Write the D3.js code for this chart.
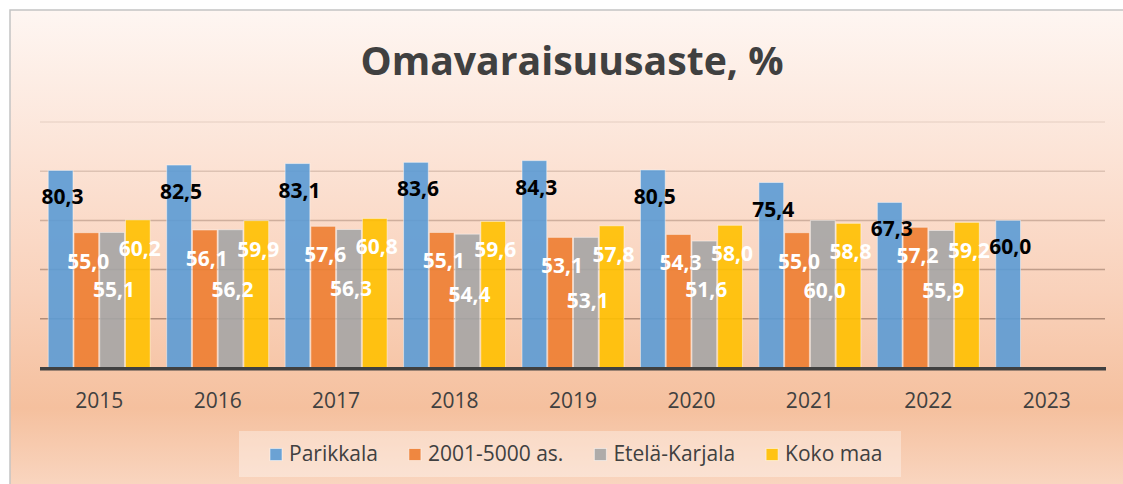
<!DOCTYPE html>
<html lang="fi">
<head>
<meta charset="UTF-8">
<title>Omavaraisuusaste, %</title>
<script src="https://cdn.jsdelivr.net/npm/d3@7/dist/d3.min.js"></script>
<style>
  body { margin: 0; background: #fff; }
  text { font-family: "Open Sans", "Noto Sans", sans-serif; }
</style>
</head>
<body>
<div id="main" style="width:1123px;height:484px"></div>
<script>
  // data
  var years = ["2015", "2016", "2017", "2018", "2019", "2020", "2021", "2022", "2023"];
  var seriesNames = ["Parikkala", "2001-5000 as.", "Etelä-Karjala", "Koko maa"];
  var parikkala = [80.3, 82.5, 83.1, 83.6, 84.3, 80.5, 75.4, 67.3, 60.0];
  var kunnat2001_5000 = [55.0, 56.1, 57.6, 55.1, 53.1, 54.3, 55.0, 57.2, null];
  var etelaKarjala = [55.1, 56.2, 56.3, 54.4, 53.1, 51.6, 60.0, 55.9, null];
  var kokoMaa = [60.2, 59.9, 60.8, 59.6, 57.8, 58.0, 58.8, 59.2, null];
  var yTicks = [0, 20, 40, 60, 80, 100];

  var seriesValues = [parikkala, kunnat2001_5000, etelaKarjala, kokoMaa];
  var colors = ["#5B9BD5", "#ED7D31", "#A5A5A5", "#FFC000"];
  var labelColors = ["#000", "#fff", "#fff", "#fff"];
  var labelDy = [34, 36, 65, 36]; // tekstin perusviiva palkin yläreunasta
  // Etelä-Karjalan nimikkeet on siirretty käsin alemmas, vuosittain eri verran
  var grayLabelDy = [65, 67, 66, 68, 71, 56, 78, 68];

  var W = 1123, H = 484;
  var svg = d3.select("#main").append("svg")
    .attr("width", W)
    .attr("height", H);

  // taustan liukuväri
  var defs = svg.append("defs");
  var grad = defs.append("linearGradient")
    .attr("id", "bg").attr("x1", 0).attr("y1", 0).attr("x2", 0).attr("y2", 1);
  [[0, "#fef6f2"], [0.3, "#fce4d7"], [0.6, "#f9d1ba"], [0.84, "#f5c09e"], [1, "#f9d5bf"]]
    .forEach(function (s) {
      grad.append("stop").attr("offset", s[0]).attr("stop-color", s[1]);
    });

  svg.append("rect")
    .attr("x", 10).attr("y", 10)
    .attr("width", W - 10).attr("height", H - 10)
    .attr("fill", "url(#bg)");
  svg.append("path")
    .attr("d", "M10," + H + " L10,10 L" + W + ",10")
    .attr("fill", "none")
    .attr("stroke", "#c4c4c4")
    .attr("stroke-width", 1.5);

  // otsikko
  svg.append("text")
    .attr("x", 572).attr("y", 75)
    .attr("text-anchor", "middle")
    .attr("font-size", 39)
    .attr("font-weight", "bold")
    .attr("fill", "#404040")
    .attr("textLength", 423)
    .attr("lengthAdjust", "spacingAndGlyphs")
    .text("Omavaraisuusaste, %");

  // asteikot
  var x0 = d3.scaleBand().domain(years).range([40, 1106]).padding(0);
  var x1 = d3.scaleBand().domain(d3.range(seriesNames.length))
    .range([0, x0.bandwidth()]).paddingInner(0.04).paddingOuter(0.32);
  var y = d3.scaleLinear().domain([0, 100]).range([368, 122]);

  // ruudukko
  svg.append("g").selectAll("line")
    .data(yTicks.slice(1))
    .enter().append("line")
    .attr("x1", 40).attr("x2", 1105)
    .attr("y1", function (d) { return y(d); })
    .attr("y2", function (d) { return y(d); })
    .attr("stroke", "#7a5a4a")
    .attr("stroke-width", 1.5)
    .attr("stroke-opacity", function (d) { return 0.12 + (100 - d) / 100 * 0.55; });

  var fmt = d3.formatLocale({ decimal: ",", thousands: " ", grouping: [3], currency: ["", "€"] }).format(".1f");

  // kaikki arvot yhteen listaan
  var cellData = [];
  years.forEach(function (yr, i) {
    seriesValues.forEach(function (s, k) {
      if (s[i] != null) cellData.push({ year: yr, i: i, k: k, v: s[i] });
    });
  });

  function barX(d) { return x0(d.year) + x1(d.k); }

  // palkit
  svg.append("g").selectAll("rect")
    .data(cellData)
    .enter().append("rect")
    .attr("x", barX)
    .attr("width", x1.bandwidth())
    .attr("y", function (d) { return y(d.v); })
    .attr("height", function (d) { return y(0) - y(d.v); })
    .attr("fill", function (d) { return colors[d.k]; })
    .attr("fill-opacity", 0.9)
    .attr("stroke", "#fff")
    .attr("stroke-opacity", 0.45)
    .attr("stroke-width", 1);

  // akseliviiva
  svg.append("line")
    .attr("x1", 40).attr("x2", 1106)
    .attr("y1", y(0) + 0.7).attr("y2", y(0) + 0.7)
    .attr("stroke", "#404040")
    .attr("stroke-width", 3.5);

  // arvot (palkkien päälle omaan kerrokseen)
  svg.append("g").selectAll("text")
    .data(cellData)
    .enter().append("text")
    .attr("x", function (d) { return barX(d) + x1.bandwidth() / 2 + 2; })
    .attr("y", function (d) {
      var dy = d.k == 2 ? grayLabelDy[d.i] : labelDy[d.k];
      return y(d.v) + dy;
    })
    .attr("text-anchor", "middle")
    .attr("font-size", 21)
    .attr("font-weight", "bold")
    .attr("fill", function (d) { return labelColors[d.k]; })
    .text(function (d) { return fmt(d.v); });

  // x-akselin nimikkeet
  var xAxis = svg.append("g")
    .attr("transform", "translate(0," + 408 + ")")
    .call(d3.axisBottom(x0).tickSize(0).tickPadding(0));
  xAxis.select(".domain").remove();
  xAxis.selectAll("text")
    .attr("dy", 0)
    .attr("font-size", 21)
    .attr("font-family", "Open Sans, sans-serif")
    .attr("fill", "#404040");

  // selite
  svg.append("rect")
    .attr("x", 239).attr("y", 431)
    .attr("width", 662).attr("height", 46)
    .attr("fill", "#fff").attr("fill-opacity", 0.35);

  var lx = 270;
  seriesNames.forEach(function (name, k) {
    var g = svg.append("g");
    g.append("rect")
      .attr("x", lx).attr("y", 448.5)
      .attr("width", 12).attr("height", 12)
      .attr("fill", colors[k])
      .attr("fill-opacity", 0.9)
      .attr("stroke", "#fff").attr("stroke-opacity", 0.5);
    var t = g.append("text")
      .attr("x", lx + 19).attr("y", 461)
      .attr("font-size", 21)
      .attr("fill", "#404040")
      .text(name);
    lx += 19 + t.node().getComputedTextLength() + 31;
  });
</script>
</body>
</html>
